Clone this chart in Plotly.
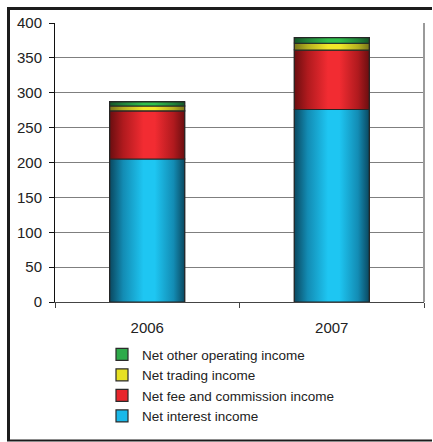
import plotly.graph_objects as go

# Operating income breakdown by year (stacked)
years = ["2006", "2007"]
net_interest = [205, 276]
net_fee_commission = [69, 85]
net_trading = [7, 10]
net_other = [6, 8]

series_names = [
    "Net interest income",
    "Net fee and commission income",
    "Net trading income",
    "Net other operating income",
]
series_values = [net_interest, net_fee_commission, net_trading, net_other]

# flat colour used for legend swatches + edge/centre colours for shading
flat_colors = ["#1ab8e8", "#e8262c", "#e6e022", "#2eaa4a"]
edge_colors = ["#0a4860", "#6a0e10", "#77751a", "#145528"]
mid_colors = ["#138cb4", "#b01a1e", "#b4b020", "#21833a"]
bright_colors = ["#1ec6f2", "#f22c32", "#f2e82a", "#30bf4c"]

bar_width = 0.407
x_pos = list(range(len(years)))

fig = go.Figure()

# stacked bars (data marks + legend entries)
for name, vals, col in zip(series_names, series_values, flat_colors):
    fig.add_trace(go.Bar(
        x=x_pos, y=vals, name=name, width=bar_width,
        marker=dict(color=col, line=dict(color="#2a2a2a", width=1.2)),
        legendgroup=name,
    ))

# cylinder-like horizontal shading laid over each stacked segment
base = [0] * len(years)
for name, vals, e, m, b in zip(series_names, series_values, edge_colors, mid_colors, bright_colors):
    for i, v in enumerate(vals):
        x0, x1 = x_pos[i] - bar_width / 2, x_pos[i] + bar_width / 2
        y0, y1 = base[i], base[i] + v
        fig.add_trace(go.Scatter(
            x=[x0, x1, x1, x0, x0], y=[y0, y0, y1, y1, y0],
            mode="lines", fill="toself",
            line=dict(color="#262626", width=1.2),
            fillgradient=dict(
                type="horizontal",
                colorscale=[[0, e], [0.18, m], [0.45, b], [0.6, b], [0.85, m], [1, e]],
            ),
            showlegend=False, hoverinfo="skip",
        ))
        base[i] += v

L, R, T, B = 55, 9, 23, 140
W, H = 433, 442
pw, ph = W - L - R, H - T - B


def px_x(p):
    return (p - L) / pw


def px_y(p):
    return (H - B - p) / ph


frame = dict(color="#1c1c1c", width=3)

fig.update_layout(
    width=W, height=H,
    margin=dict(l=L, r=R, t=T, b=B),
    barmode="stack",
    paper_bgcolor="white", plot_bgcolor="white",
    font=dict(family="Liberation Sans, Arial, sans-serif", color="#222222"),
    showlegend=True,
    legend=dict(
        traceorder="reversed",
        x=px_x(102), xanchor="left",
        y=px_y(339), yanchor="top",
        font=dict(size=13.5, color="#222222"),
        bgcolor="rgba(0,0,0,0)",
        tracegroupgap=6,
    ),
    xaxis=dict(
        range=[-0.5, 1.5],
        tickvals=x_pos, ticktext=years,
        ticks="", showgrid=False,
        showline=True, linecolor="#444444", linewidth=1,
        tickfont=dict(size=15, color="#222222"),
        ticklabelstandoff=12,
        minor=dict(tickvals=[-0.5, 0.5, 1.5], ticks="outside", ticklen=5,
                   tickcolor="#444444", showgrid=False),
        zeroline=False, fixedrange=True,
    ),
    yaxis=dict(
        range=[0, 400], dtick=50,
        showgrid=True, gridcolor="#7f7f7f", gridwidth=1,
        showline=True, linecolor="#111111", linewidth=1,
        ticks="outside", ticklen=5, tickcolor="#111111",
        tickfont=dict(size=15, color="#222222"),
        ticklabelstandoff=4,
        zeroline=False, fixedrange=True,
    ),
    shapes=[
        # right edge of plotting area
        dict(type="line", xref="paper", yref="paper", x0=1, x1=1, y0=0, y1=1,
             line=dict(color="#9a9a9a", width=2)),
        # outer frame: top, left and bottom edges, kept inside the canvas
        dict(type="line", xref="paper", yref="paper",
             x0=px_x(7), x1=px_x(W - 1), y0=px_y(8.5), y1=px_y(8.5), line=frame),
        dict(type="line", xref="paper", yref="paper",
             x0=px_x(8.5), x1=px_x(8.5), y0=px_y(7), y1=px_y(441), line=frame),
        dict(type="line", xref="paper", yref="paper",
             x0=px_x(7), x1=px_x(W - 1), y0=px_y(440.5), y1=px_y(440.5),
             line=dict(color="#1c1c1c", width=2)),
    ],
)

fig.write_html(
    "out.html",
    config={"displayModeBar": False},
    post_script=(
        "document.documentElement.style.overflow='hidden';"
        "document.body.style.overflow='hidden';"
    ),
)
